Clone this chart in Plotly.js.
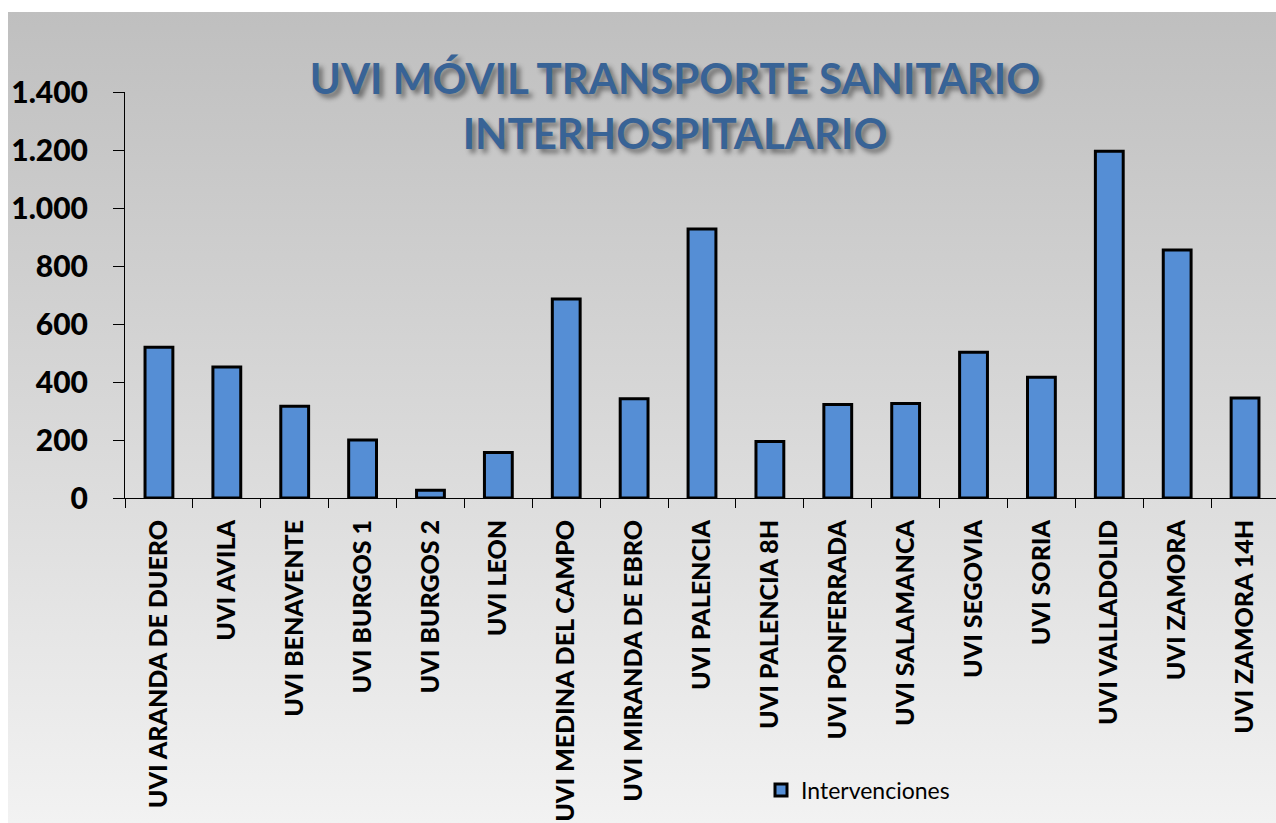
<!DOCTYPE html>
<html>
<head>
<meta charset="utf-8">
<script src="https://cdn.plot.ly/plotly-3.0.1.min.js"></script>
<style>
html, body { margin:0; padding:0; background:#ffffff; overflow:hidden; width:1276px; height:823px; }
#bg { position:absolute; left:8px; top:12px; width:1290px; height:811px;
  background: linear-gradient(to bottom, #bfbfbf 0%, #d8d8d8 50%, #f2f2f2 100%); }
#chart { position:absolute; left:0; top:0; width:1290px; height:823px; }
</style>
</head>
<body>
<div id="bg"></div>
<div id="chart"></div>
<script>
const categories = [
  "UVI ARANDA DE DUERO", "UVI AVILA", "UVI BENAVENTE", "UVI BURGOS 1", "UVI BURGOS 2",
  "UVI LEON", "UVI MEDINA DEL CAMPO", "UVI MIRANDA DE EBRO", "UVI PALENCIA", "UVI PALENCIA 8H",
  "UVI PONFERRADA", "UVI SALAMANCA", "UVI SEGOVIA", "UVI SORIA", "UVI VALLADOLID",
  "UVI ZAMORA", "UVI ZAMORA 14H"
];
const intervenciones = [520, 452, 316, 200, 27, 157, 686, 342, 928, 195, 322, 326, 503, 416, 1196, 855, 345];
const seriesName = "Intervenciones";
const yTicks = [0, 200, 400, 600, 800, 1000, 1200, 1400];
const titleText = "UVI MÓVIL TRANSPORTE SANITARIO<br>INTERHOSPITALARIO";

const W = 1290, H = 823;
const L = 125, R = 11, T = 92, B = H - 498;

const trace = {
  type: "bar",
  x: categories,
  y: intervenciones,
  name: seriesName,
  marker: { color: "#558ed5", line: { color: "#000000", width: 3 } },
  showlegend: true,
  hoverinfo: "x+y"
};

const layout = {
  width: W, height: H,
  margin: { l: L, r: R, t: T, b: B, pad: 0 },
  paper_bgcolor: "rgba(0,0,0,0)",
  plot_bgcolor: "rgba(0,0,0,0)",
  separators: ",.",
  bargap: 0.59,
  title: {
    text: titleText,
    font: { family: "Lato", size: 42, color: "#386396", weight: 700, shadow: "4px 4px 5px rgba(0,0,0,0.45)" },
    x: 675 / W, xref: "container", xanchor: "center",
    y: 1 - 94 / H, yref: "container", yanchor: "middle"
  },
  xaxis: {
    type: "category",
    showline: true, linecolor: "#000000", linewidth: 1,
    ticks: "outside", ticklen: 9, tickcolor: "#000000", tickwidth: 1,
    tickson: "boundaries",
    tickangle: -90,
    ticklabelstandoff: 11,
    tickfont: { family: "Lato", size: 25, color: "#000000", weight: 900 },
    showgrid: false, zeroline: false
  },
  yaxis: {
    range: [0, 1400],
    tickvals: yTicks,
    tickformat: ",d",
    showline: true, linecolor: "#000000", linewidth: 1,
    ticks: "outside", ticklen: 11, tickcolor: "#000000", tickwidth: 1,
    ticklabelstandoff: 19,
    tickfont: { family: "Lato", size: 30, color: "#000000", weight: 900 },
    showgrid: false, zeroline: false
  },
  showlegend: true,
  legend: {
    x: (761 - L) / (W - L - R), xanchor: "left",
    y: (498 - 790) / (498 - T), yanchor: "middle",
    bgcolor: "rgba(0,0,0,0)",
    font: { family: "Lato", size: 23, color: "#000000" }
  }
};

Plotly.newPlot("chart", [trace], layout, { displayModeBar: false, responsive: false });
</script>
</body>
</html>
